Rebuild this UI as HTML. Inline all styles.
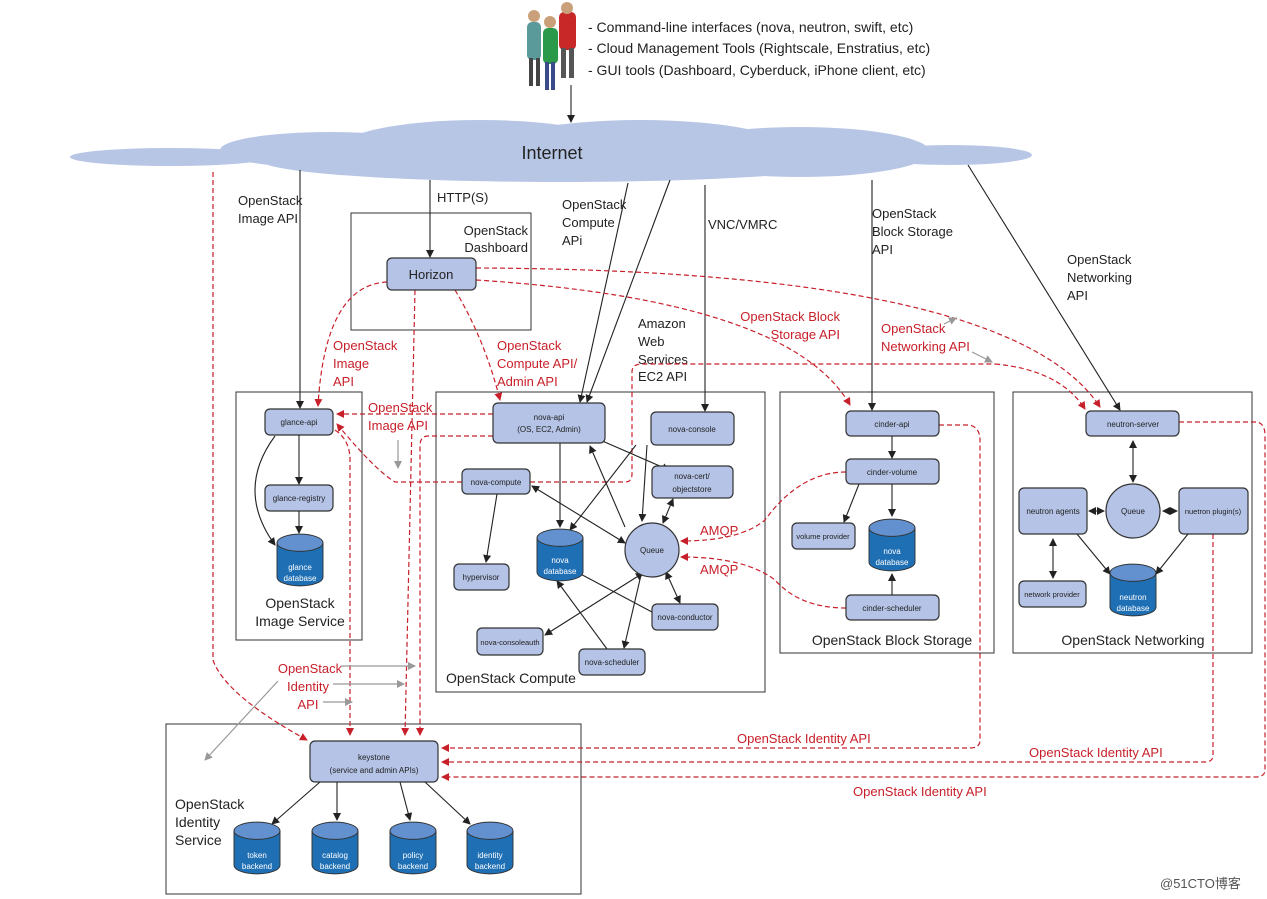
<!DOCTYPE html>
<html><head><meta charset="utf-8"><style>
html,body{margin:0;padding:0;background:#fff}
svg{display:block}
text{font-family:"Liberation Sans",sans-serif;fill:#222}
.s{font-size:8px;text-anchor:middle}
.l{font-size:13px}
.r{font-size:13px;fill:#c8202a}
.b{fill:#b4c3e6;stroke:#333;stroke-width:1.2}
.k{stroke:#222;stroke-width:1.1;fill:none;marker-end:url(#ak)}
.kk{stroke:#222;stroke-width:1.1;fill:none;marker-end:url(#ak);marker-start:url(#aks)}
.d{stroke:#c8202a;stroke-width:1.2;fill:none;stroke-dasharray:5,3;marker-end:url(#ar)}
.dn{stroke:#c8202a;stroke-width:1.2;fill:none;stroke-dasharray:5,3}
.g{stroke:#999;stroke-width:1.2;fill:none;marker-end:url(#ag)}
.frame{fill:none;stroke:#333;stroke-width:1}
.ct{font-size:8px;fill:#fff;text-anchor:middle}
</style></head><body>
<svg width="1267" height="899" viewBox="0 0 1267 899" xmlns="http://www.w3.org/2000/svg">
<defs>
<marker id="ak" markerWidth="8" markerHeight="8" refX="7" refY="4" orient="auto" markerUnits="userSpaceOnUse"><path d="M0,0 L8,4 L0,8 z" fill="#222"/></marker>
<marker id="aks" markerWidth="8" markerHeight="8" refX="1" refY="4" orient="auto" markerUnits="userSpaceOnUse"><path d="M8,0 L0,4 L8,8 z" fill="#222"/></marker>
<marker id="ar" markerWidth="8" markerHeight="8" refX="7" refY="4" orient="auto" markerUnits="userSpaceOnUse"><path d="M0,0 L8,4 L0,8 z" fill="#c8202a"/></marker>
<marker id="ag" markerWidth="8" markerHeight="8" refX="7" refY="4" orient="auto" markerUnits="userSpaceOnUse"><path d="M0,0 L8,4 L0,8 z" fill="#999"/></marker>
<symbol id="cyl" viewBox="0 0 48 54" overflow="visible">
<path d="M0,9 L0,45 A24,9 0 0 0 48,45 L48,9" fill="#1f6fb5" stroke="#333" stroke-width="1"/>
<ellipse cx="24" cy="9" rx="24" ry="9" fill="#6391cf" stroke="#333" stroke-width="1"/>
</symbol>
</defs>
<rect width="1267" height="899" fill="#fff"/>

<!-- people -->
<g>
<rect x="527" y="22" width="14" height="38" rx="5" fill="#5a9a9a"/><circle cx="534" cy="16" r="6" fill="#c9a07a"/><rect x="529" y="58" width="4" height="28" fill="#444"/><rect x="536" y="58" width="4" height="28" fill="#444"/>
<rect x="559" y="12" width="17" height="38" rx="5" fill="#c82828"/><circle cx="567" cy="8" r="6" fill="#c9a07a"/><rect x="561" y="48" width="5" height="30" fill="#555"/><rect x="569" y="48" width="5" height="30" fill="#555"/>
<rect x="543" y="28" width="15" height="36" rx="5" fill="#2a9a4a"/><circle cx="550" cy="22" r="6" fill="#c9a07a"/><rect x="545" y="62" width="4" height="28" fill="#3a4a8a"/><rect x="551" y="62" width="4" height="28" fill="#3a4a8a"/>
</g>
<text x="588" y="32" style="font-size:14px">- Command-line interfaces (nova, neutron, swift, etc)</text>
<text x="588" y="53" style="font-size:14px">- Cloud Management Tools (Rightscale, Enstratius, etc)</text>
<text x="588" y="75" style="font-size:14px">- GUI tools (Dashboard, Cyberduck, iPhone client, etc)</text>
<line x1="571" y1="85" x2="571" y2="122" class="k"/>

<!-- cloud -->
<g fill="#b8c6e6">
<ellipse cx="170" cy="157" rx="100" ry="9"/>
<ellipse cx="330" cy="150" rx="110" ry="18"/>
<ellipse cx="480" cy="148" rx="140" ry="28"/>
<ellipse cx="640" cy="150" rx="150" ry="30"/>
<ellipse cx="800" cy="152" rx="130" ry="25"/>
<ellipse cx="950" cy="155" rx="82" ry="10"/>
<ellipse cx="560" cy="160" rx="300" ry="22"/>
</g>
<text x="552" y="159" style="font-size:18px;text-anchor:middle">Internet</text>

<!-- frames -->
<rect class="frame" x="351" y="213" width="180" height="117"/>
<rect class="frame" x="236" y="392" width="126" height="248"/>
<rect class="frame" x="436" y="392" width="329" height="300"/>
<rect class="frame" x="780" y="392" width="214" height="261"/>
<rect class="frame" x="1013" y="392" width="239" height="261"/>
<rect class="frame" x="166" y="724" width="415" height="170"/>

<!-- black lines from cloud -->
<line x1="300" y1="170" x2="300" y2="408" class="k"/>
<line x1="430" y1="180" x2="430" y2="257" class="k"/>
<line x1="628" y1="183" x2="580" y2="402" class="k"/>
<line x1="670" y1="180" x2="587" y2="402" class="k"/>
<line x1="705" y1="185" x2="705" y2="411" class="k"/>
<line x1="872" y1="180" x2="872" y2="410" class="k"/>
<line x1="968" y1="165" x2="1120" y2="410" class="k"/>

<!-- black labels -->
<text class="l" x="238" y="205">OpenStack</text><text class="l" x="238" y="223">Image API</text>
<text class="l" x="437" y="202">HTTP(S)</text>
<text class="l" x="528" y="235" text-anchor="end">OpenStack</text><text class="l" x="528" y="252" text-anchor="end">Dashboard</text>
<text class="l" x="562" y="209">OpenStack</text><text class="l" x="562" y="227">Compute</text><text class="l" x="562" y="245">APi</text>
<text class="l" x="708" y="229">VNC/VMRC</text>
<text class="l" x="638" y="328">Amazon</text><text class="l" x="638" y="346">Web</text><text class="l" x="638" y="364">Services</text><text class="l" x="638" y="381">EC2 API</text>
<text class="l" x="872" y="218">OpenStack</text><text class="l" x="872" y="236">Block Storage</text><text class="l" x="872" y="254">API</text>
<text class="l" x="1067" y="264">OpenStack</text><text class="l" x="1067" y="282">Networking</text><text class="l" x="1067" y="300">API</text>

<!-- red dashed -->
<path class="d" d="M387,282 Q325,285 318,406"/>
<path class="d" d="M415,290 L405,735"/>
<path class="d" d="M455,290 Q485,340 500,400"/>
<path class="d" d="M476,280 Q790,300 850,405"/>
<path class="d" d="M476,268 Q1010,270 1100,407"/>
<path class="d" d="M493,414 L337,414"/>
<path class="d" d="M462,482 L395,482 Q375,470 337,424"/>
<path class="dn" d="M530,482 L625,482 Q632,482 632,474 L632,372 Q632,364 642,364 L995,364"/>
<path class="d" d="M995,364 Q1060,370 1085,409"/>
<path class="d" d="M493,436 L428,436 Q420,436 420,446 L420,735"/>
<path class="d" d="M335,430 Q350,440 350,460 L350,735"/>
<path class="d" d="M213,172 L213,660 Q225,695 307,740"/>
<path class="d" d="M939,425 L970,425 Q980,428 980,440 L980,740 Q980,748 970,748 L442,748"/>
<path class="d" d="M1213,534 L1213,755 Q1213,762 1205,762 L442,762"/>
<path class="d" d="M1179,422 L1258,422 Q1265,425 1265,435 L1265,770 Q1265,777 1255,777 L442,777"/>
<path class="d" d="M846,472 Q800,472 765,520 Q740,541 681,541"/>
<path class="d" d="M846,608 Q800,608 775,580 Q745,557 681,557"/>

<!-- red labels -->
<text class="r" x="333" y="350">OpenStack</text><text class="r" x="333" y="368">Image</text><text class="r" x="333" y="386">API</text>
<text class="r" x="497" y="350">OpenStack</text><text class="r" x="497" y="368">Compute API/</text><text class="r" x="497" y="386">Admin API</text>
<text class="r" x="840" y="321" text-anchor="end">OpenStack Block</text><text class="r" x="840" y="339" text-anchor="end">Storage API</text>
<text class="r" x="881" y="333">OpenStack</text><text class="r" x="881" y="351">Networking API</text>
<text class="r" x="368" y="412">OpenStack</text><text class="r" x="368" y="430">Image API</text>
<text class="r" x="700" y="535">AMQP</text><text class="r" x="700" y="574">AMQP</text>
<text class="r" x="310" y="673" text-anchor="middle">OpenStack</text><text class="r" x="308" y="691" text-anchor="middle">Identity</text><text class="r" x="308" y="709" text-anchor="middle">API</text>
<text class="r" x="737" y="743">OpenStack Identity API</text>
<text class="r" x="1029" y="757">OpenStack Identity API</text>
<text class="r" x="853" y="796">OpenStack Identity API</text>

<!-- gray arrows -->
<line class="g" x1="341" y1="666" x2="415" y2="666"/>
<line class="g" x1="333" y1="684" x2="404" y2="684"/>
<line class="g" x1="323" y1="702" x2="352" y2="702"/>
<line class="g" x1="278" y1="681" x2="205" y2="760"/>
<line class="g" x1="398" y1="440" x2="398" y2="468"/>
<line class="g" x1="944" y1="324" x2="956" y2="318"/>
<line class="g" x1="972" y1="352" x2="992" y2="362"/>

<!-- Horizon -->
<rect class="b" x="387" y="258" width="89" height="32" rx="5"/>
<text x="431" y="279" style="font-size:13px;text-anchor:middle">Horizon</text>

<!-- glance -->
<rect class="b" x="265" y="409" width="68" height="26" rx="5"/><text class="s" x="299" y="425">glance-api</text>
<rect class="b" x="265" y="485" width="68" height="26" rx="5"/><text class="s" x="299" y="501">glance-registry</text>
<line class="k" x1="299" y1="435" x2="299" y2="484"/>
<line class="k" x1="299" y1="511" x2="299" y2="533"/>
<path class="k" d="M275,436 Q235,490 275,545"/>
<use href="#cyl" x="277" y="533" width="46" height="54"/>
<text class="ct" x="300" y="570">glance</text><text class="ct" x="300" y="581">database</text>
<text x="300" y="608" style="font-size:14px;text-anchor:middle">OpenStack</text>
<text x="300" y="626" style="font-size:14px;text-anchor:middle">Image Service</text>

<!-- compute -->
<line class="k" x1="560" y1="443" x2="560" y2="527"/>
<path class="k" d="M600,440 L669,470"/>
<path class="k" d="M636,445 L570,530"/>
<path class="k" d="M647,445 L642,521"/>
<path class="k" d="M625,527 L590,446"/>
<path class="kk" d="M532,486 L625,543"/>
<path class="kk" d="M663,523 L673,499"/>
<path class="k" d="M497,494 L486,562"/>
<path class="kk" d="M643,573 L545,635"/>
<path class="k" d="M641,575 L624,648"/>
<path class="kk" d="M666,572 L680,603"/>
<path class="k" d="M652,612 L573,570"/>
<path class="k" d="M607,649 L557,581"/>
<rect class="b" x="493" y="403" width="112" height="40" rx="5"/><text class="s" x="549" y="420">nova-api</text><text class="s" x="549" y="432">(OS, EC2, Admin)</text>
<rect class="b" x="651" y="412" width="83" height="33" rx="5"/><text class="s" x="692" y="432">nova-console</text>
<rect class="b" x="462" y="469" width="68" height="25" rx="5"/><text class="s" x="496" y="485">nova-compute</text>
<rect class="b" x="652" y="466" width="81" height="32" rx="5"/><text class="s" x="692" y="479">nova-cert/</text><text class="s" x="692" y="492">objectstore</text>
<circle cx="652" cy="550" r="27" class="b"/><text class="s" x="652" y="553">Queue</text>
<use href="#cyl" x="537" y="528" width="46" height="54"/>
<text class="ct" x="560" y="563">nova</text><text class="ct" x="560" y="574">database</text>
<rect class="b" x="454" y="564" width="55" height="26" rx="5"/><text class="s" x="481" y="580">hypervisor</text>
<rect class="b" x="477" y="628" width="66" height="27" rx="5"/><text class="s" x="510" y="645" style="font-size:7.5px">nova-consoleauth</text>
<rect class="b" x="579" y="649" width="66" height="26" rx="5"/><text class="s" x="612" y="665">nova-scheduler</text>
<rect class="b" x="652" y="604" width="66" height="26" rx="5"/><text class="s" x="685" y="620">nova-conductor</text>
<text x="446" y="683" style="font-size:14px">OpenStack Compute</text>

<!-- block storage -->
<line class="k" x1="892" y1="436" x2="892" y2="458"/>
<line class="k" x1="892" y1="484" x2="892" y2="516"/>
<line class="k" x1="859" y1="484" x2="844" y2="522"/>
<line class="k" x1="892" y1="595" x2="892" y2="574"/>
<rect class="b" x="846" y="411" width="93" height="25" rx="5"/><text class="s" x="892" y="427">cinder-api</text>
<rect class="b" x="846" y="459" width="93" height="25" rx="5"/><text class="s" x="892" y="475">cinder-volume</text>
<rect class="b" x="792" y="523" width="63" height="26" rx="5"/><text class="s" x="823" y="539" style="font-size:7.5px">volume provider</text>
<use href="#cyl" x="869" y="518" width="46" height="54"/>
<text class="ct" x="892" y="554">nova</text><text class="ct" x="892" y="565">database</text>
<rect class="b" x="846" y="595" width="93" height="25" rx="5"/><text class="s" x="892" y="611">cinder-scheduler</text>
<text x="892" y="645" style="font-size:14px;text-anchor:middle">OpenStack Block Storage</text>

<!-- networking -->
<line class="kk" x1="1133" y1="441" x2="1133" y2="482"/>
<line class="kk" x1="1089" y1="511" x2="1104" y2="511"/>
<line class="kk" x1="1163" y1="511" x2="1177" y2="511"/>
<line class="kk" x1="1053" y1="539" x2="1053" y2="578"/>
<line class="k" x1="1077" y1="534" x2="1110" y2="574"/>
<line class="k" x1="1188" y1="534" x2="1156" y2="574"/>
<rect class="b" x="1086" y="411" width="93" height="25" rx="5"/><text class="s" x="1133" y="427">neutron-server</text>
<rect class="b" x="1019" y="488" width="68" height="46" rx="5"/><text class="s" x="1053" y="514">neutron agents</text>
<circle cx="1133" cy="511" r="27" class="b"/><text class="s" x="1133" y="514">Queue</text>
<rect class="b" x="1179" y="488" width="69" height="46" rx="5"/><text class="s" x="1213" y="514" style="font-size:7.5px">nuetron plugin(s)</text>
<rect class="b" x="1019" y="581" width="67" height="26" rx="5"/><text class="s" x="1052" y="597" style="font-size:7.5px">network provider</text>
<use href="#cyl" x="1110" y="563" width="46" height="54"/>
<text class="ct" x="1133" y="600">neutron</text><text class="ct" x="1133" y="611">database</text>
<text x="1133" y="645" style="font-size:14px;text-anchor:middle">OpenStack Networking</text>

<!-- identity -->
<line class="k" x1="320" y1="782" x2="272" y2="824"/>
<line class="k" x1="337" y1="782" x2="337" y2="820"/>
<line class="k" x1="400" y1="782" x2="410" y2="820"/>
<line class="k" x1="425" y1="782" x2="470" y2="824"/>
<rect class="b" x="310" y="741" width="128" height="41" rx="5"/><text class="s" x="374" y="760">keystone</text><text class="s" x="374" y="773">(service and admin APIs)</text>
<use href="#cyl" x="234" y="821" width="46" height="54"/><text class="ct" x="257" y="858">token</text><text class="ct" x="257" y="869">backend</text>
<use href="#cyl" x="312" y="821" width="46" height="54"/><text class="ct" x="335" y="858">catalog</text><text class="ct" x="335" y="869">backend</text>
<use href="#cyl" x="390" y="821" width="46" height="54"/><text class="ct" x="413" y="858">policy</text><text class="ct" x="413" y="869">backend</text>
<use href="#cyl" x="467" y="821" width="46" height="54"/><text class="ct" x="490" y="858">identity</text><text class="ct" x="490" y="869">backend</text>
<text x="175" y="809" style="font-size:14px">OpenStack</text><text x="175" y="827" style="font-size:14px">Identity</text><text x="175" y="845" style="font-size:14px">Service</text>

<text x="1160" y="888" style="font-family:'Liberation Sans','Noto Sans CJK SC',sans-serif;font-size:13px;fill:#555">@51CTO博客</text>
</svg>
</body></html>
